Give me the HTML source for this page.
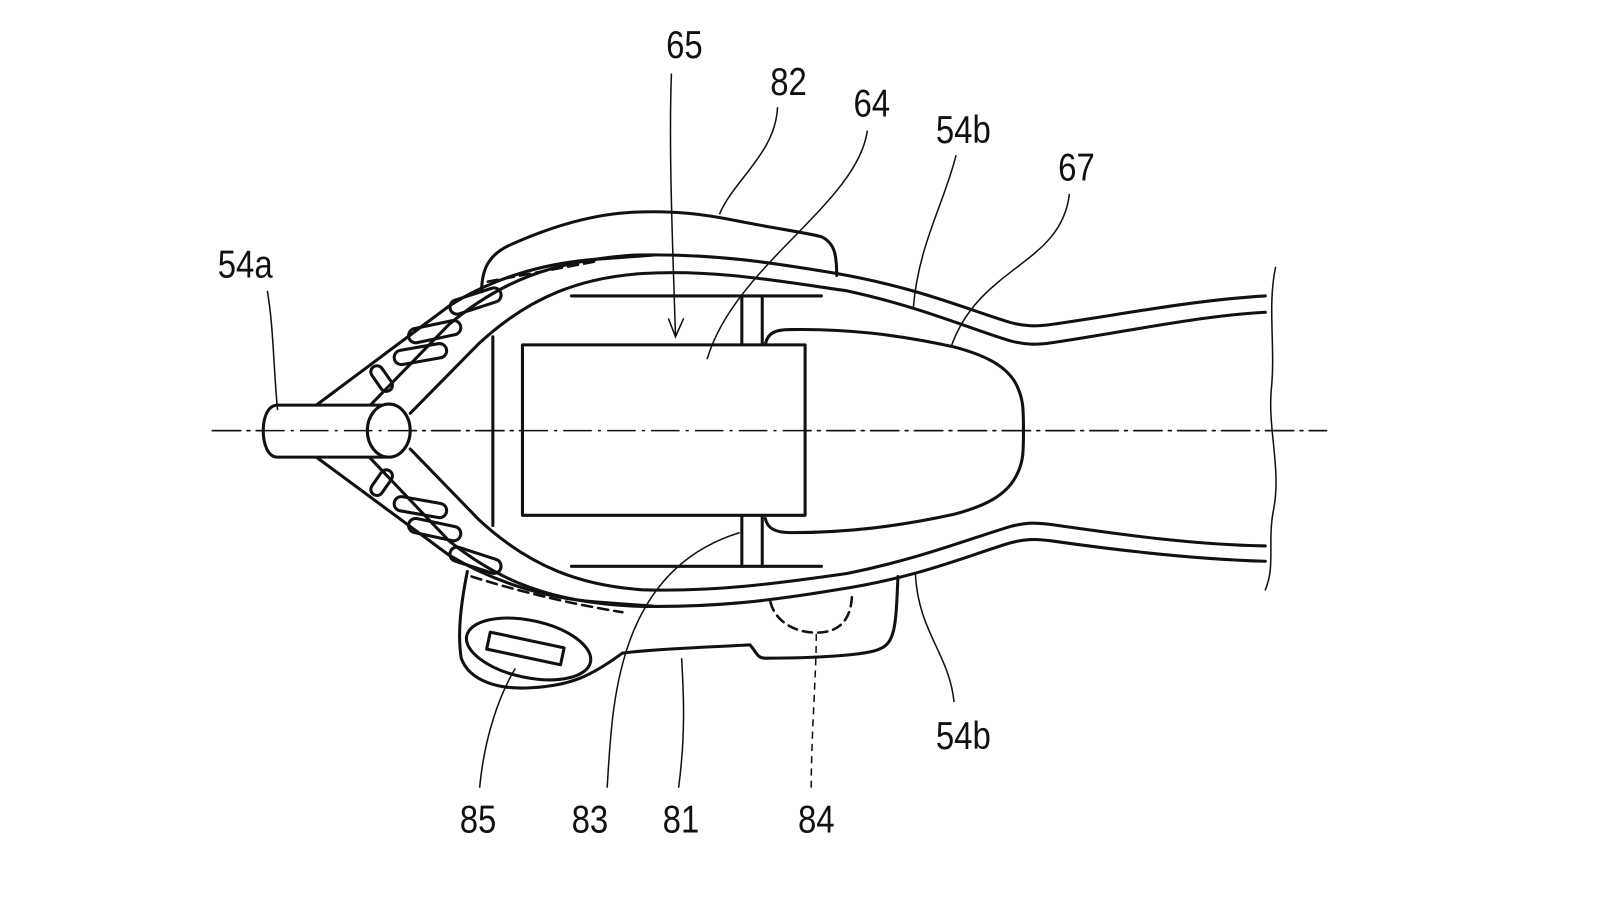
<!DOCTYPE html>
<html><head><meta charset="utf-8"><style>
html,body{margin:0;padding:0;background:#fff;}
svg{display:block}
text{font-family:"Liberation Sans Narrow","Liberation Sans",sans-serif;font-size:38px;fill:#111;}
</style></head><body>
<svg width="1600" height="900" viewBox="0 0 1568 882" preserveAspectRatio="none" xmlns="http://www.w3.org/2000/svg">
<rect width="1568" height="882" fill="#fff"/>
<g fill="none" stroke="#111" stroke-width="3" stroke-linecap="round" stroke-linejoin="round">
<line x1="208" y1="422" x2="1300" y2="422" stroke-width="1.5" stroke-dasharray="28,6,3,6"/>
<!-- upper bracket 82 -->
<path d="M472 286 C472 265 478 250 500 240 C540 222 580 210 620 208 C660 206 690 210 720 216 C760 224 790 228 805 232 C818 238 820 250 820 270"/>
<path d="M478 276 L585 256" stroke-dasharray="10,6" stroke-width="2.5"/>
<!-- lower bracket 81 -->
<path d="M458 560 C452 590 448 620 452 645 C460 668 490 676 520 674 C560 672 580 662 610 640 C640 636 700 634 735 632 C742 640 742 645 750 645 C800 645 850 642 862 636 C878 630 878 610 880 565"/>
<path d="M462 565 C510 580 560 592 610 600" stroke-dasharray="10,6" stroke-width="2.5"/>
<ellipse cx="518" cy="636" rx="62" ry="28" transform="rotate(12 518 636)"/>
<rect x="478" y="627" width="74" height="17" transform="rotate(12 515 635)"/>
<path d="M755 590 C760 610 780 620 800 620 C825 620 835 605 835 580" stroke-dasharray="9,6" stroke-width="2.5"/>
<!-- outer frame cone lines -->
<path d="M310 397 L440 300 C480 274 530 258 585 254 L640 250"/>
<path d="M310 448 L440 544 C480 568 530 586 585 590 L640 594"/>
<!-- 54b tube upper -->
<path d="M402 405 L470 336 C520 290 570 272 630 268 C700 264 760 275 830 285 C900 300 950 322 990 334 C1005 338 1015 338 1030 336 C1100 326 1170 310 1240 306"/>
<path d="M360 400 L440 318 C490 276 540 256 620 250 C700 248 760 258 820 268 C900 282 950 304 990 316 C1005 320 1015 320 1030 318 C1100 308 1170 294 1240 290"/>
<!-- 54b tube lower -->
<path d="M402 440 L470 510 C520 556 570 574 630 578 C700 580 760 572 830 562 C900 548 950 528 990 516 C1005 512 1015 512 1030 514 C1100 524 1170 534 1240 535"/>
<path d="M360 446 L440 530 C490 570 540 590 620 594 C700 596 760 588 820 578 C900 566 950 544 990 532 C1005 528 1015 528 1030 530 C1100 540 1170 548 1240 550"/>
<!-- braces (capsules) -->
<rect x="440" y="288" width="52" height="14" rx="7" transform="rotate(-18 466 295)"/>
<rect x="400" y="318" width="52" height="14" rx="7" transform="rotate(-12 426 325)"/>
<rect x="386" y="340" width="52" height="14" rx="7" transform="rotate(-10 412 347)"/>
<rect x="360" y="365" width="28" height="12" rx="6" transform="rotate(55 374 371)"/>
<rect x="360" y="467" width="28" height="12" rx="6" transform="rotate(-55 374 473)"/>
<rect x="386" y="490" width="52" height="14" rx="7" transform="rotate(10 412 497)"/>
<rect x="400" y="512" width="52" height="14" rx="7" transform="rotate(12 426 519)"/>
<rect x="440" y="542" width="52" height="14" rx="7" transform="rotate(18 466 549)"/>
<!-- frame inner -->
<line x1="483" y1="330" x2="483" y2="515"/>
<line x1="560" y1="290" x2="805" y2="290"/>
<line x1="560" y1="555" x2="805" y2="555"/>
<line x1="727" y1="290" x2="727" y2="338"/><line x1="747" y1="290" x2="747" y2="338"/>
<line x1="727" y1="505" x2="727" y2="555"/><line x1="747" y1="505" x2="747" y2="555"/>
<rect x="512" y="338" width="277" height="167" fill="#fff"/>
<!-- tongue 67 -->
<path d="M750 338 C752 326 760 323 775 323 C830 322 880 328 935 340 C965 348 985 358 995 375 C1003 390 1003 400 1003 422 C1003 444 1003 454 995 468 C985 486 965 496 935 504 C880 516 830 522 775 522 C760 522 752 518 750 508"/>
<!-- small cylinder 54a -->
<path d="M380 397 L272 397 C262 397 258 410 258 422 C258 434 262 448 272 448 L380 448" fill="#fff"/>
<ellipse cx="381" cy="422" rx="21" ry="26" fill="#fff"/>
<path d="M1250 262 C1242 300 1250 340 1246 380 C1242 420 1256 460 1248 500 C1242 530 1250 555 1240 578" stroke-width="1.5"/>
</g>
<line x1="208" y1="422" x2="1300" y2="422" stroke="#111" stroke-width="1.5" stroke-dasharray="28,6,3,6"/>
<g fill="none" stroke="#111" stroke-width="1.5">
<path d="M262 285 C268 320 268 360 272 402"/>
<path d="M658 72 C655 150 660 260 662 330"/>
<path d="M655 312 L662 330 L670 312"/>
<path d="M762 105 C760 150 720 175 705 210"/>
<path d="M850 128 C840 200 720 260 693 352"/>
<path d="M937 152 C925 200 900 240 895 302"/>
<path d="M1048 190 C1040 260 960 260 932 340"/>
<path d="M935 688 C930 640 900 620 897 562"/>
<path d="M470 772 C475 720 490 680 505 655"/>
<path d="M595 772 C600 700 600 560 725 522"/>
<path d="M665 772 C672 720 670 680 668 645"/>
<path d="M795 772 C795 720 800 660 800 620" stroke-dasharray="7,5"/>
</g>
<g transform="scale(0.85,1)">
<text x="768" y="57">65</text>
<text x="888" y="93">82</text>
<text x="984" y="114">64</text>
<text x="1079" y="140">54b</text>
<text x="1220" y="177">67</text>
<text x="251" y="272">54a</text>
<text x="1079" y="734">54b</text>
<text x="530" y="816">85</text>
<text x="659" y="816">83</text>
<text x="764" y="816">81</text>
<text x="920" y="816">84</text>
</g>
</svg>
</body></html>
